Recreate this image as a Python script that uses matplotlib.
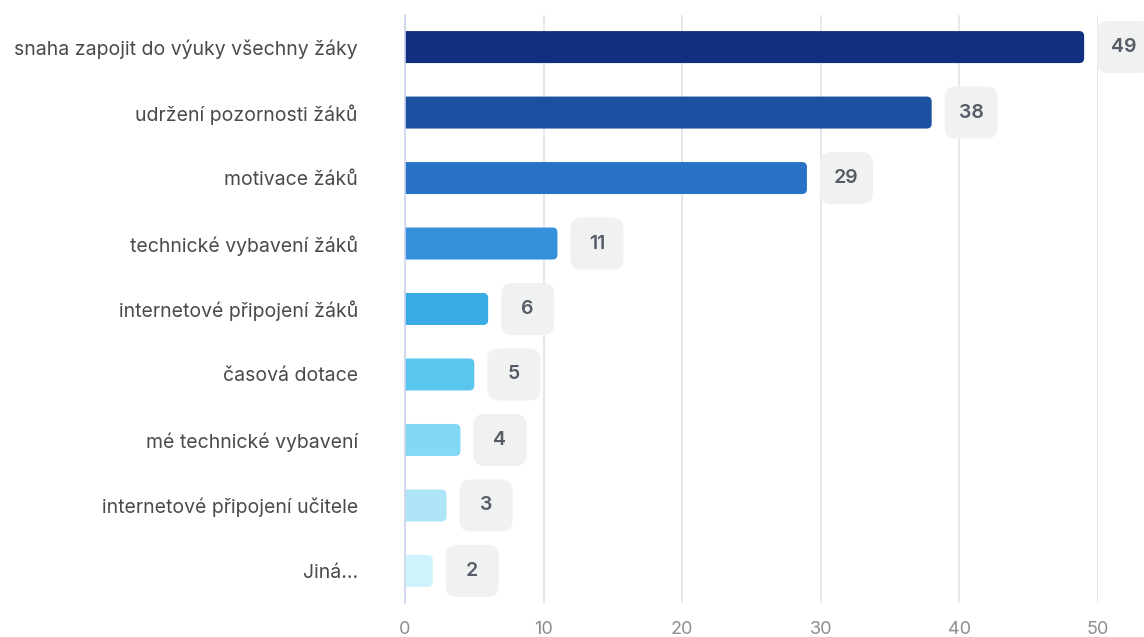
import matplotlib
matplotlib.use("Agg")
import matplotlib.pyplot as plt
from matplotlib.patches import FancyBboxPatch

categories = [
    "snaha zapojit do výuky všechny žáky",
    "udržení pozornosti žáků",
    "motivace žáků",
    "technické vybavení žáků",
    "internetové připojení žáků",
    "časová dotace",
    "mé technické vybavení",
    "internetové připojení učitele",
    "Jiná...",
]
values = [49, 38, 29, 11, 6, 5, 4, 3, 2]
colors = ["#112f80", "#1b51a0", "#2a72c6", "#3590db", "#3aabe4",
          "#5ac6ef", "#82d9f3", "#ade5f6", "#d0f2fa"]
x_ticks = [0, 10, 20, 30, 40, 50]

W, H, DPI = 1144, 637, 100
fig = plt.figure(figsize=(W / DPI, H / DPI), dpi=DPI)
ax_left, ax_right, ax_top, ax_bottom = 405, 1098, 15, 603
ax = fig.add_axes([ax_left / W, 1 - ax_bottom / H,
                   (ax_right - ax_left) / W, (ax_bottom - ax_top) / H])

n = len(categories)
ypos = list(range(n))
ax.set_xlim(0, 50)
ax.set_ylim(n - 1 + 0.49, -0.49)

# pixel <-> data scale factors
px_x = (ax_right - ax_left) / 50.0
px_y = (ax_bottom - ax_top) / (n - 1 + 0.98)
aspect = px_x / px_y

bar_h = 32 / px_y
bars = ax.barh(ypos, values, height=bar_h, color=colors, zorder=3)

# rounded right end; the left end runs under the axis line and is clipped square
r_bar = 5 / px_x
for rect, c in zip(bars, colors):
    x0, y0 = rect.get_x(), rect.get_y()
    w, h = rect.get_width(), rect.get_height()
    rect.set_visible(False)
    ext = 3 * r_bar
    ax.add_patch(FancyBboxPatch((x0 - ext, y0), w + ext, h,
                                boxstyle=f"round,pad=0,rounding_size={r_bar}",
                                mutation_aspect=aspect, fc=c, ec="none", zorder=3))

# value badges
gap = 13 / px_x
bw = 53 / px_x
bh = 52 / px_y
r_badge = 11 / px_x
for yi, v in zip(ypos, values):
    bx = v + gap
    ax.add_patch(FancyBboxPatch((bx, yi - bh / 2), bw, bh,
                                boxstyle=f"round,pad=0,rounding_size={r_badge}",
                                mutation_aspect=aspect, fc="#f0f1f1", ec="none",
                                zorder=4, clip_on=False))
    ax.text(bx + bw / 2, yi, str(v), ha="center", va="center",
            fontsize=14, fontweight="semibold", color="#575b66",
            family="Inter", zorder=5, clip_on=False)

# axes styling
for s in ["top", "right", "bottom"]:
    ax.spines[s].set_visible(False)
ax.spines["left"].set_color("#ccd4ee")
ax.spines["left"].set_linewidth(1.2)
ax.spines["left"].set_zorder(6)
ax.set_xticks(x_ticks)
ax.grid(axis="x", color="#e3e4e8", linewidth=1.2, zorder=0)
ax.set_axisbelow(True)
ax.set_yticks(ypos)
ax.set_yticklabels(categories)
ax.tick_params(axis="y", length=0, pad=34, labelsize=14, labelcolor="#4a4a4a")
ax.tick_params(axis="x", length=0, pad=13, labelsize=13, labelcolor="#8a8d91")
for lab in ax.get_yticklabels() + ax.get_xticklabels():
    lab.set_family("Inter")

fig.savefig("out.png", dpi=DPI, facecolor="white")
